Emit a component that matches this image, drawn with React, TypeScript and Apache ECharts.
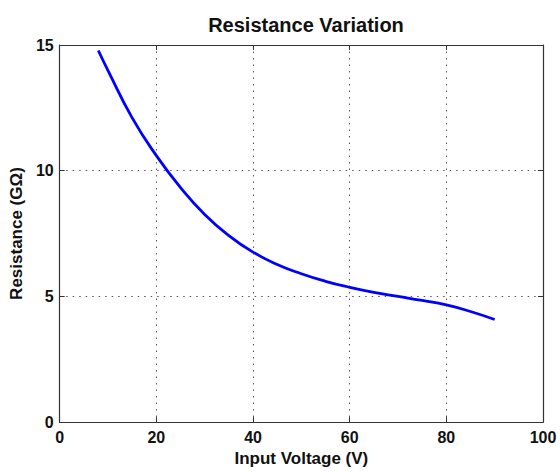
import React, { useEffect, useRef } from "react";
import * as echarts from "echarts";

const titleText = "Resistance Variation";
const xAxisName = "Input Voltage (V)";
const yAxisName = "Resistance (GΩ)";

const voltage = [8, 10, 15, 20, 25, 30, 35, 40, 45, 50, 55, 60, 65, 70, 75, 80, 85, 90];
const resistance = [14.78, 13.98, 12.1, 10.6, 9.33, 8.26, 7.42, 6.76, 6.27, 5.9, 5.6, 5.36, 5.16, 5.0, 4.84, 4.66, 4.4, 4.08];

const xMin = 0, xMax = 100, xStep = 20;
const yMin = 0, yMax = 15, yStep = 5;

const FONT = "'Liberation Sans', Arial, Helvetica, sans-serif";

export default function App() {
  const ref = useRef<HTMLDivElement>(null);
  useEffect(() => {
    if (!ref.current) return;
    const chart = echarts.init(ref.current, undefined, { renderer: "svg" });
    const gridLine = { show: true, lineStyle: { color: "#555", width: 1, type: [1.5, 5] as any } };
    const axisLine = { show: true, onZero: false, lineStyle: { color: "#333", width: 1.2 } };
    const tick = { show: true, inside: true, length: 5, lineStyle: { color: "#333", width: 1 } };
    const label = { fontFamily: FONT, fontWeight: "bold" as const, fontSize: 16, color: "#111" };
    const nameStyle = { fontFamily: FONT, fontWeight: "bold" as const, fontSize: 17, color: "#111" };
    chart.setOption({
      animation: false,
      backgroundColor: "#fff",
      title: {
        text: titleText,
        left: 301,
        textAlign: "center",
        top: 10,
        textStyle: { fontFamily: FONT, fontWeight: "bold", fontSize: 20, color: "#111" },
      },
      grid: { left: 58.5, right: 17, top: 45, bottom: 46, containLabel: false },
      xAxis: [
        {
          type: "value",
          min: xMin,
          max: xMax,
          interval: xStep,
          position: "bottom",
          name: xAxisName,
          nameLocation: "middle",
          nameGap: 25,
          nameTextStyle: nameStyle,
          axisLine,
          axisTick: tick,
          axisLabel: { ...label, margin: 7 },
          splitLine: gridLine,
        },
        {
          type: "value",
          min: xMin,
          max: xMax,
          interval: xStep,
          position: "top",
          axisLine,
          axisTick: tick,
          axisLabel: { show: false },
          splitLine: { show: false },
        },
      ],
      yAxis: [
        {
          type: "value",
          min: yMin,
          max: yMax,
          interval: yStep,
          position: "left",
          name: yAxisName,
          nameLocation: "middle",
          nameGap: 33,
          nameRotate: 90,
          nameTextStyle: nameStyle,
          axisLine,
          axisTick: tick,
          axisLabel: { ...label, margin: 6 },
          splitLine: gridLine,
        },
        {
          type: "value",
          min: yMin,
          max: yMax,
          interval: yStep,
          position: "right",
          axisLine,
          axisTick: tick,
          axisLabel: { show: false },
          splitLine: { show: false },
        },
      ],
      series: [
        {
          type: "line",
          xAxisIndex: 0,
          yAxisIndex: 0,
          data: voltage.map((v, i) => [v, resistance[i]]),
          smooth: 0.5,
          showSymbol: false,
          symbol: "none",
          lineStyle: { color: "#0000ff", width: 2.8 },
        },
      ],
    });
    return () => chart.dispose();
  }, []);
  return (
    <div
      ref={ref}
      style={{ position: "fixed", left: 0, top: 0, width: 560, height: 472, background: "#fff" }}
    />
  );
}
